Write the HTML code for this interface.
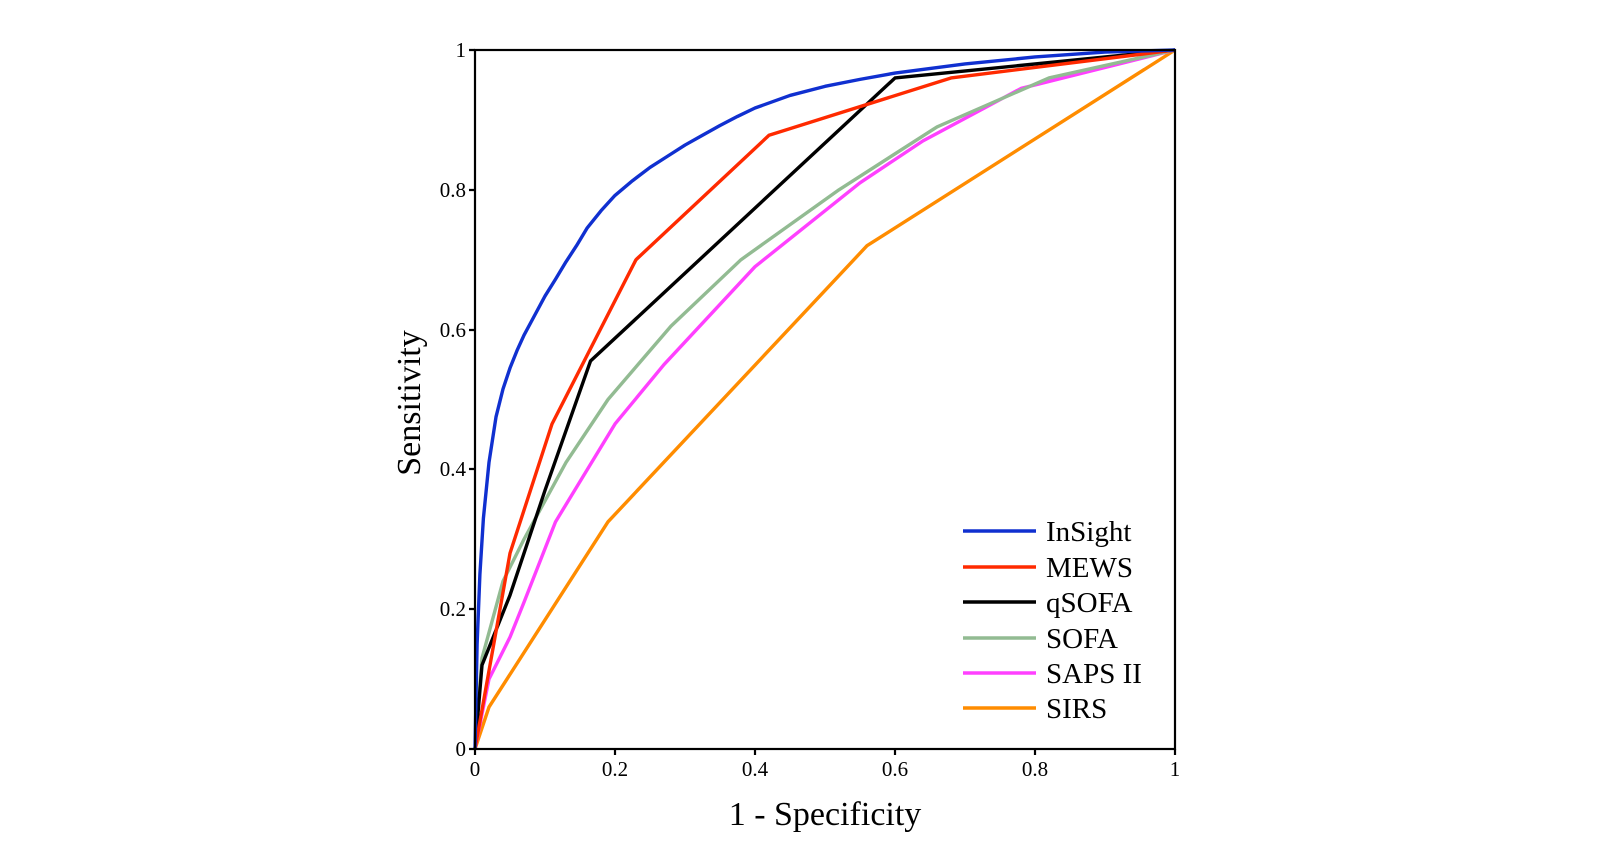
<!DOCTYPE html>
<html><head><meta charset="utf-8"><style>html,body{margin:0;padding:0;background:#fff}svg{display:block}text{font-family:"Liberation Serif",serif;fill:#000}</style></head>
<body>
<svg width="1600" height="850" viewBox="0 0 1600 850" xmlns="http://www.w3.org/2000/svg">
<g fill="none" stroke-width="3.4" stroke-linejoin="round">
<g transform="translate(475,749) scale(700,-699)">
<polyline vector-effect="non-scaling-stroke" stroke="#ff8c00" points="0,0 0.02,0.06 0.19,0.325 0.56,0.72 1,1"/>
<polyline vector-effect="non-scaling-stroke" stroke="#ff40ff" points="0,0 0.02,0.1 0.05,0.16 0.07,0.21 0.115,0.325 0.2,0.465 0.27,0.55 0.4,0.69 0.55,0.81 0.64,0.87 0.78,0.945 1,1"/>
<polyline vector-effect="non-scaling-stroke" stroke="#92bb92" points="0,0 0.01,0.13 0.04,0.24 0.07,0.3 0.13,0.41 0.19,0.5 0.28,0.605 0.38,0.7 0.52,0.8 0.66,0.89 0.82,0.96 1,1"/>
<polyline vector-effect="non-scaling-stroke" stroke="#000" points="0,0 0.01,0.12 0.05,0.22 0.1,0.37 0.165,0.555 0.6,0.96 1,1"/>
<polyline vector-effect="non-scaling-stroke" stroke="#ff2a00" points="0,0 0.05,0.28 0.11,0.465 0.23,0.7 0.42,0.878 0.68,0.96 1,1"/>
<polyline vector-effect="non-scaling-stroke" stroke="#1030d0" points="0,0 0.003,0.15 0.007,0.25 0.012,0.33 0.02,0.41 0.03,0.475 0.04,0.515 0.05,0.545 0.06,0.57 0.07,0.592 0.085,0.62 0.1,0.648 0.115,0.672 0.13,0.697 0.145,0.72 0.16,0.745 0.18,0.77 0.2,0.792 0.225,0.813 0.25,0.832 0.275,0.848 0.3,0.864 0.325,0.878 0.35,0.892 0.375,0.905 0.4,0.917 0.45,0.935 0.5,0.948 0.55,0.958 0.6,0.967 0.7,0.98 0.8,0.99 0.9,0.997 1,1"/>
</g>
</g>
<g stroke="#000" stroke-width="2.2" fill="none">
<rect x="475" y="50" width="700" height="699"/>
<path d="M469 50H475M469 190H475M469 330H475M469 469H475M469 609H475M469 749H475M475 749V755M615 749V755M755 749V755M895 749V755M1035 749V755M1175 749V755"/>
</g>
<g font-size="21" text-anchor="end">
<text x="466" y="57">1</text><text x="466" y="197">0.8</text><text x="466" y="337">0.6</text><text x="466" y="476">0.4</text><text x="466" y="616">0.2</text><text x="466" y="756">0</text>
</g>
<g font-size="21" text-anchor="middle">
<text x="475" y="776">0</text><text x="615" y="776">0.2</text><text x="755" y="776">0.4</text><text x="895" y="776">0.6</text><text x="1035" y="776">0.8</text><text x="1175" y="776">1</text>
</g>
<text x="825" y="825" font-size="34" text-anchor="middle">1 - Specificity</text>
<text transform="translate(420,403) rotate(-90)" font-size="34" text-anchor="middle">Sensitivity</text>
<g stroke-width="3.4">
<line x1="963" y1="531" x2="1036" y2="531" stroke="#1030d0"/>
<line x1="963" y1="567" x2="1036" y2="567" stroke="#ff2a00"/>
<line x1="963" y1="602" x2="1036" y2="602" stroke="#000"/>
<line x1="963" y1="638" x2="1036" y2="638" stroke="#92bb92"/>
<line x1="963" y1="673" x2="1036" y2="673" stroke="#ff40ff"/>
<line x1="963" y1="708" x2="1036" y2="708" stroke="#ff8c00"/>
</g>
<g font-size="29">
<text x="1046" y="541">InSight</text><text x="1046" y="577">MEWS</text><text x="1046" y="612">qSOFA</text><text x="1046" y="648">SOFA</text><text x="1046" y="683">SAPS II</text><text x="1046" y="718">SIRS</text>
</g>
</svg>
</body></html>
